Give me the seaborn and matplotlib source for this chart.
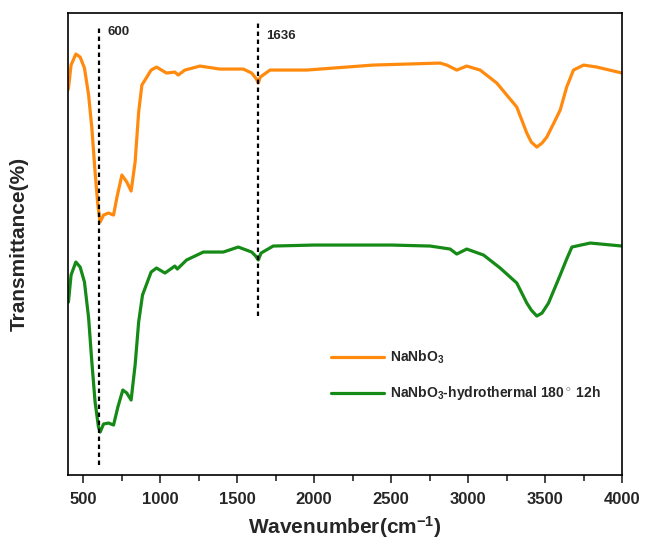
import numpy as np
import pandas as pd
import matplotlib
matplotlib.use('Agg')
import matplotlib.pyplot as plt
from matplotlib.ticker import MultipleLocator
import seaborn as sns

# FTIR spectra, values (transmittance in arbitrary units)
wn_raw = [400, 404, 421, 452, 480, 508, 535, 556, 577, 595, 610, 632, 664, 697, 718,
          751, 783, 811, 837, 860, 881, 941, 976, 1041, 1095, 1117, 1160, 1258, 1388,
          1540, 1594, 1625, 1637, 1650, 1713, 1951, 2383, 2818, 2861, 2926, 2991, 3078,
          3186, 3316, 3381, 3410, 3446, 3480, 3511, 3550, 3598, 3640, 3684, 3750, 3836,
          4000]
t_raw = [385, 387, 410, 421, 418, 407, 380, 347, 303, 270, 253, 260, 262, 260, 277,
         300, 293, 284, 313, 363, 390, 405, 408, 402, 403, 400, 405, 409, 406,
         406, 402, 396, 392, 398, 405, 405, 410, 412, 410, 405, 409, 405,
         392, 368, 342, 333, 328, 332, 338, 350, 365, 388, 405, 410, 408,
         402]

wn_hyd = [400, 404, 421, 452, 480, 508, 535, 556, 577, 599, 610, 632, 664, 697, 725,
          757, 783, 811, 837, 860, 885, 941, 976, 1031, 1095, 1111, 1171, 1280, 1410,
          1507, 1594, 1620, 1637, 1655, 1734, 2000, 2500, 2753, 2883, 2926, 2991, 3100,
          3208, 3316, 3381, 3410, 3446, 3480, 3522, 3560, 3598, 3640, 3674, 3793, 4000]
t_hyd = [173, 173, 200, 213, 208, 193, 157, 113, 73, 48, 43, 51, 52, 50, 68,
         85, 82, 75, 110, 153, 180, 203, 207, 202, 209, 206, 215, 223, 223,
         228, 223, 219, 215, 222, 229, 230, 230, 229, 226, 221, 226, 220,
         207, 192, 172, 165, 159, 162, 172, 186, 200, 216, 228, 232, 229]

peaks = [600, 1636]
peak_labels = ['600', '1636']

labels = [r'NaNbO$_\mathregular{3}$',
          r'NaNbO$_\mathregular{3}$-hydrothermal 180$^\circ$ 12h']

df = pd.concat([
    pd.DataFrame({'wn': wn_raw, 't': t_raw, 'sample': labels[0]}),
    pd.DataFrame({'wn': wn_hyd, 't': t_hyd, 'sample': labels[1]}),
])

sns.set_style('ticks')
plt.rcParams['font.family'] = ['Liberation Sans', 'DejaVu Sans']
plt.rcParams['font.weight'] = 'bold'
plt.rcParams['axes.unicode_minus'] = False
plt.rcParams['mathtext.fontset'] = 'custom'
plt.rcParams['mathtext.rm'] = 'Liberation Sans:bold'
plt.rcParams['mathtext.bf'] = 'Liberation Sans:bold'
plt.rcParams['mathtext.it'] = 'Liberation Sans:bold'

fig = plt.figure(figsize=(6.46, 5.47), dpi=100)
ax = fig.add_axes([0.105, 0.1316, 0.858, 0.8445])

sns.lineplot(data=df, x='wn', y='t', hue='sample', sort=False,
             palette=['#FF8A0E', '#168A16'], linewidth=2.3, ax=ax)

# marker lines for the two bands
ax.plot([peaks[0], peaks[0]], [10, 450], color='black', lw=1.6, ls=(0, (2, 1.6)))
ax.plot([peaks[1], peaks[1]], [159, 453], color='black', lw=1.6, ls=(0, (2, 1.6)))
ax.text(660, 443, peak_labels[0], fontsize=9.5, fontweight='bold', va='center')
ax.text(1687, 439, peak_labels[1], fontsize=9.5, fontweight='bold', va='center')

ax.set_xlim(400, 4000)
ax.set_ylim(0, 462)
ax.xaxis.set_major_locator(MultipleLocator(500))
ax.xaxis.set_minor_locator(MultipleLocator(250))
ax.tick_params(axis='x', which='major', direction='out', length=6, width=1.2,
               labelsize=12, pad=6)
ax.tick_params(axis='x', which='minor', direction='out', length=4, width=1.2)
ax.set_yticks([])
for s in ax.spines.values():
    s.set_linewidth(1.2)
    s.set_color('black')

ax.set_xlabel(r'Wavenumber(cm$^{\mathregular{-1}}$)', fontsize=15, fontweight='bold', labelpad=5)
ax.set_ylabel('Transmittance(%)', fontsize=15, fontweight='bold', labelpad=28)

ax.legend(title=None, frameon=False, loc='upper left', bbox_to_anchor=(0.453, 0.30),
          handlelength=3.8, labelspacing=1.3, handletextpad=0.4,
          prop={'size': 10, 'weight': 'bold'})

fig.savefig('out.png', dpi=100)
